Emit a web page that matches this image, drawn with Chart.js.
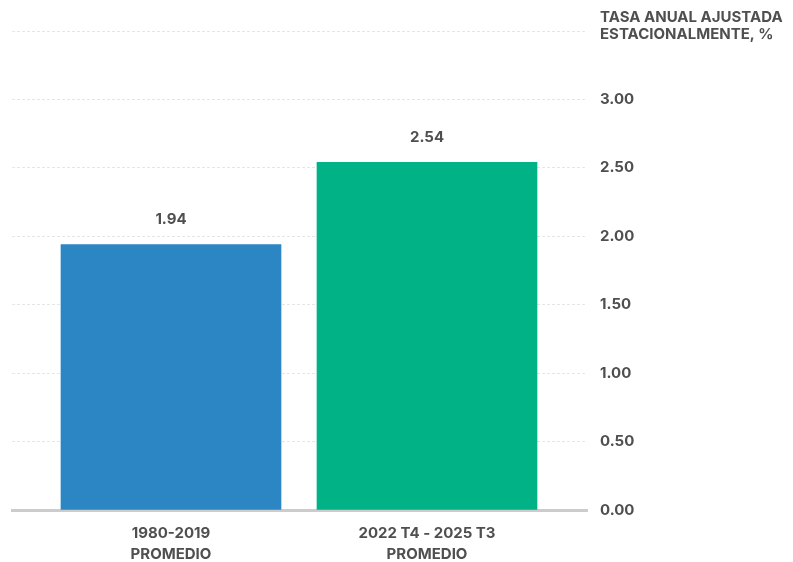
<!DOCTYPE html>
<html>
<head>
<meta charset="utf-8">
<script src="https://cdn.jsdelivr.net/npm/chart.js@4/dist/chart.umd.min.js"></script>
<style>
  html, body { margin: 0; padding: 0; background: #ffffff; }
  #wrap { width: 793px; height: 562px; position: relative; }
</style>
</head>
<body>
<div id="wrap"><canvas id="chart"></canvas></div>
<script>
// Categories (each line of a label is a separate entry)
const categories = [
  ['1980-2019', 'PROMEDIO'],
  ['2022 T4 - 2025 T3', 'PROMEDIO']
];
// Seasonally adjusted annual rate, %
const values = [1.94, 2.54];
const barColors = ['#2b86c3', '#00b286'];
// Axis
const yTicks = [0, 0.5, 1, 1.5, 2, 2.5, 3, 3.5];
const axisTitle = ['TASA ANUAL AJUSTADA', 'ESTACIONALMENTE, %'];

const FONT = 'Inter, "Noto Sans", sans-serif';
const TEXT = '#4f4f4f';

// Value labels above bars and the unit title above the right axis
const annotate = {
  id: 'annotate',
  afterDatasetsDraw(chart) {
    const ctx = chart.ctx;
    const meta = chart.getDatasetMeta(0);
    ctx.save();
    ctx.font = 'bold 15px ' + FONT;
    ctx.fillStyle = TEXT;
    ctx.textAlign = 'center';
    ctx.textBaseline = 'middle';
    meta.data.forEach((bar, i) => {
      ctx.fillText(values[i].toFixed(2), bar.x, bar.y - 25);
    });
    const y = chart.scales.y;
    ctx.textAlign = 'left';
    axisTitle.forEach((line, i) => {
      ctx.fillText(line, y.left + 13, 17 + i * 17);
    });
    ctx.restore();
  }
};

new Chart(document.getElementById('chart'), {
  type: 'bar',
  data: {
    datasets: [{
      data: values.map((v, i) => ({ x: i, y: v })),
      backgroundColor: barColors,
      borderWidth: 0,
      barThickness: 220
    }]
  },
  options: {
    responsive: true,
    maintainAspectRatio: false,
    animation: false,
    layout: { padding: { left: 12, top: 31, right: 0, bottom: 0 } },
    plugins: {
      legend: { display: false },
      tooltip: { enabled: false }
    },
    scales: {
      x: {
        type: 'linear',
        min: -0.621,
        max: 1.625,
        bounds: 'data',
        offset: false,
        afterBuildTicks(scale) { scale.ticks = categories.map((c, i) => ({ value: i })); },
        grid: { display: false, drawTicks: false, offset: false },
        border: { display: true, color: '#cccccc', width: 3 },
        afterFit(scale) { scale.height = 52; },
        ticks: {
          padding: 13,
          maxRotation: 0,
          autoSkip: false,
          color: TEXT,
          font: { family: FONT, size: 15, weight: 'bold', lineHeight: 1.4 },
          callback: (v) => categories[Math.round(v)] || ''
        }
      },
      y: {
        position: 'right',
        min: 0,
        max: 3.5,
        afterFit(scale) { scale.width = 206; },
        afterBuildTicks(scale) { scale.ticks = yTicks.map(v => ({ value: v })); },
        grid: { color: '#e6e6e6', lineWidth: 1, drawTicks: false },
        border: { display: false, dash: [3, 2] },
        ticks: {
          padding: 13,
          color: TEXT,
          font: { family: FONT, size: 15, weight: 'bold' },
          callback: (v) => (v >= 3.5 ? '' : Number(v).toFixed(2))
        }
      }
    }
  },
  plugins: [annotate]
});
</script>
</body>
</html>
